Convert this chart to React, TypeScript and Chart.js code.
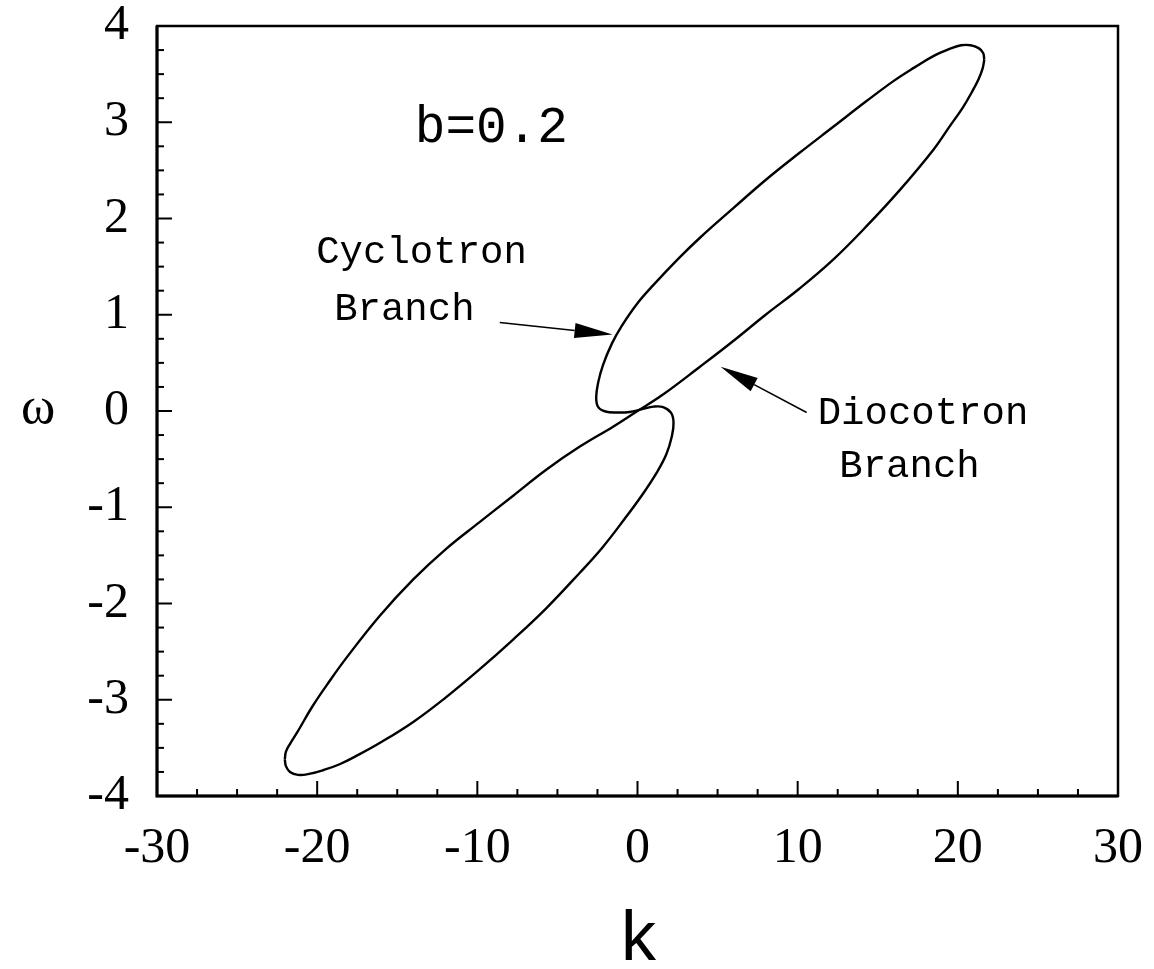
import React, { useEffect, useRef } from "react";
import { Chart, registerables } from "chart.js";

Chart.register(...registerables);

// ---- Data (k, omega) ----
// Cyclotron branch: from the upper tip, down the upper-left side of the upper lobe,
// S-turn through the origin, down the lower-right side of the lower lobe to the lower tip.
const cyclotronK = [
  21.65, 21.58, 21.3, 20.8, 20.2, 19.6, 18.5, 17.3, 16.0, 14.3, 12.2, 10.1, 8.0, 6.0, 3.9,
  2.6, 1.0, 0.0, -1.0, -1.6, -2.15, -2.45, -2.58, -2.45, -2.0, -1.3, -0.5, 0.3, 1.0, 1.6,
  2.1, 2.25, 2.15, 1.8, 1.2, 0.3, -0.8, -2.2, -3.6, -5.7, -7.8, -9.9, -12.0, -14.0, -16.1,
  -17.4, -18.6, -19.6, -20.5, -21.2, -21.7, -21.95, -22.02,
];
const cyclotronW = [
  3.65, 3.72, 3.77, 3.8, 3.8, 3.77, 3.69, 3.57, 3.43, 3.22, 2.95, 2.68, 2.4, 2.11, 1.8,
  1.59, 1.31, 1.12, 0.88, 0.7, 0.48, 0.3, 0.14, 0.04, -0.005, -0.015, -0.01, 0.02, 0.045, 0.04,
  -0.02, -0.12, -0.26, -0.45, -0.64, -0.87, -1.12, -1.42, -1.68, -2.05, -2.38, -2.69, -2.98,
  -3.23, -3.45, -3.57, -3.67, -3.73, -3.77, -3.78, -3.75, -3.69, -3.62,
];

// Diocotron branch: from the lower tip, up the upper-left side of the lower lobe,
// straight through the origin and up the lower-right side of the upper lobe to the upper tip.
const diocotronK = [
  -22.02, -21.95, -21.7, -21.25, -20.3, -19.2, -18.2, -16.1, -14.0, -12.0, -9.9, -7.8, -5.7,
  -3.6, -1.5, 0, 1.5, 3.9, 6.0, 8.0, 10.1, 12.2, 14.3, 16.4, 18.5, 19.5, 20.3, 20.9, 21.3,
  21.55, 21.65,
];
const diocotronW = [
  -3.62, -3.54, -3.46, -3.34, -3.07, -2.8, -2.57, -2.13, -1.75, -1.44, -1.16, -0.885, -0.61,
  -0.37, -0.16, 0, 0.16, 0.46, 0.73, 1.0, 1.27, 1.57, 1.92, 2.3, 2.72, 2.96, 3.15, 3.32, 3.45,
  3.56, 3.65,
];

const xTickValues = [-30, -20, -10, 0, 10, 20, 30];
const yTickValues = [-4, -3, -2, -1, 0, 1, 2, 3, 4];
const xMinorStep = 2.5;
const yMinorStep = 0.25;

const paramLabel = "b=0.2";
const cyclotronLabel = ["Cyclotron", "Branch"];
const diocotronLabel = ["Diocotron", "Branch"];
const xTitle = "k";
const yTitle = "ω";

// annotation anchors in data units (k, omega)
const paramPos = { k: -13.9, w: 2.79 };
const cycLine1Pos = { k: -20.06, w: 1.54 };
const cycLine2Pos = { k: -18.94, w: 0.95 };
const cycArrow = { from: { k: -8.6, w: 0.92 }, to: { k: -1.56, w: 0.795 } };
const dioLine1Pos = { k: 11.25, w: -0.14 };
const dioLine2Pos = { k: 12.6, w: -0.69 };
const dioArrow = { from: { k: 10.56, w: -0.016 }, to: { k: 5.19, w: 0.46 } };

const SERIF = '"Liberation Serif", "Times New Roman", serif';
const MONO = '"Liberation Mono", "Courier New", monospace';
const SANS = '"Liberation Sans", Arial, sans-serif';

function drawArrow(ctx: CanvasRenderingContext2D, x1: number, y1: number, x2: number, y2: number) {
  const ang = Math.atan2(y2 - y1, x2 - x1);
  const headLen = 38;
  const headHalf = 7.5;
  const bx = x2 - headLen * Math.cos(ang);
  const by = y2 - headLen * Math.sin(ang);
  ctx.beginPath();
  ctx.lineWidth = 1.6;
  ctx.moveTo(x1, y1);
  ctx.lineTo(bx, by);
  ctx.stroke();
  ctx.beginPath();
  ctx.moveTo(x2, y2);
  ctx.lineTo(bx + headHalf * Math.sin(ang), by - headHalf * Math.cos(ang));
  ctx.lineTo(bx - headHalf * Math.sin(ang), by + headHalf * Math.cos(ang));
  ctx.closePath();
  ctx.fill();
}

const decorPlugin = {
  id: "decor",
  afterDraw(chart: any) {
    const ctx: CanvasRenderingContext2D = chart.ctx;
    const { left, right, top, bottom } = chart.chartArea;
    const xs = chart.scales.x;
    const ys = chart.scales.y;
    const px = (k: number) => xs.getPixelForValue(k);
    const py = (w: number) => ys.getPixelForValue(w);
    ctx.save();
    ctx.strokeStyle = "#000";
    ctx.fillStyle = "#000";

    // frame
    ctx.lineWidth = 2.5;
    ctx.strokeRect(left, top, right - left, bottom - top);
    ctx.lineWidth = 3;
    ctx.beginPath();
    ctx.moveTo(left, top);
    ctx.lineTo(left, bottom);
    ctx.lineTo(right, bottom);
    ctx.stroke();

    // inward ticks (bottom and left only)
    ctx.lineWidth = 2;
    const xMin = xTickValues[0];
    const xMax = xTickValues[xTickValues.length - 1];
    for (let i = 0; xMin + i * xMinorStep <= xMax + 1e-9; i++) {
      const v = xMin + i * xMinorStep;
      const major = xTickValues.some((t) => Math.abs(t - v) < 1e-6);
      if (v === xMin || v === xMax) continue;
      const x = px(v);
      ctx.beginPath();
      ctx.moveTo(x, bottom);
      ctx.lineTo(x, bottom - (major ? 15 : 7));
      ctx.stroke();
    }
    const yMin = yTickValues[0];
    const yMax = yTickValues[yTickValues.length - 1];
    for (let i = 0; yMin + i * yMinorStep <= yMax + 1e-9; i++) {
      const v = yMin + i * yMinorStep;
      const major = yTickValues.some((t) => Math.abs(t - v) < 1e-6);
      if (v === yMin || v === yMax) continue;
      const y = py(v);
      ctx.beginPath();
      ctx.moveTo(left, y);
      ctx.lineTo(left + (major ? 15 : 7), y);
      ctx.stroke();
    }

    // annotations
    ctx.textBaseline = "alphabetic";
    ctx.textAlign = "left";
    ctx.font = `51px ${MONO}`;
    ctx.fillText(paramLabel, px(paramPos.k), py(paramPos.w));
    ctx.font = `39px ${MONO}`;
    ctx.fillText(cyclotronLabel[0], px(cycLine1Pos.k), py(cycLine1Pos.w));
    ctx.fillText(cyclotronLabel[1], px(cycLine2Pos.k), py(cycLine2Pos.w));
    ctx.fillText(diocotronLabel[0], px(dioLine1Pos.k), py(dioLine1Pos.w));
    ctx.fillText(diocotronLabel[1], px(dioLine2Pos.k), py(dioLine2Pos.w));

    drawArrow(ctx, px(cycArrow.from.k), py(cycArrow.from.w), px(cycArrow.to.k), py(cycArrow.to.w));
    drawArrow(ctx, px(dioArrow.from.k), py(dioArrow.from.w), px(dioArrow.to.k), py(dioArrow.to.w));

    // axis titles
    ctx.textAlign = "center";
    ctx.font = `70px ${SANS}`;
    ctx.fillText(xTitle, (left + right) / 2 + 1, 960);
    ctx.font = `52px ${SERIF}`;
    ctx.fillText(yTitle, 38, py(0) + 12);

    ctx.restore();
  },
};

export default function App() {
  const canvasRef = useRef<HTMLCanvasElement | null>(null);

  useEffect(() => {
    const canvas = canvasRef.current;
    if (!canvas) return;
    const lineStyle = {
      showLine: true,
      borderColor: "#000",
      borderWidth: 2.4,
      pointRadius: 0,
      tension: 0.4,
      fill: false,
    };
    const chart = new Chart(canvas, {
      type: "scatter",
      data: {
        datasets: [
          {
            label: "Cyclotron Branch",
            data: cyclotronK.map((k, i) => ({ x: k, y: cyclotronW[i] })),
            ...lineStyle,
          },
          {
            label: "Diocotron Branch",
            data: diocotronK.map((k, i) => ({ x: k, y: diocotronW[i] })),
            ...lineStyle,
          },
        ],
      },
      options: {
        animation: false,
        responsive: false,
        devicePixelRatio: 1,
        events: [],
        layout: { padding: 0 },
        plugins: {
          legend: { display: false },
          tooltip: { enabled: false },
          title: { display: false },
        },
        scales: {
          x: {
            type: "linear",
            min: -30,
            max: 30,
            afterBuildTicks: (s: any) => {
              s.ticks = xTickValues.map((v) => ({ value: v }));
            },
            afterFit: (s: any) => {
              s.height = 173;
              s.paddingLeft = 0;
              s.paddingRight = 36;
              s.paddingTop = 0;
              s.paddingBottom = 0;
            },
            ticks: {
              color: "#000",
              font: { family: SERIF, size: 50, lineHeight: 1 },
              padding: 28,
              maxRotation: 0,
              autoSkip: false,
            },
            grid: { display: false, drawTicks: false },
            border: { display: false },
          },
          y: {
            type: "linear",
            min: -4,
            max: 4,
            afterBuildTicks: (s: any) => {
              s.ticks = yTickValues.map((v) => ({ value: v }));
            },
            afterFit: (s: any) => {
              s.width = 157;
              s.paddingTop = 26;
              s.paddingBottom = 0;
              s.paddingLeft = 0;
              s.paddingRight = 0;
            },
            ticks: {
              color: "#000",
              font: { family: SERIF, size: 50, lineHeight: 1 },
              padding: 28,
              autoSkip: false,
            },
            grid: { display: false, drawTicks: false },
            border: { display: false },
          },
        },
      },
      plugins: [decorPlugin],
    });
    return () => chart.destroy();
  }, []);

  return (
    <div style={{ position: "absolute", left: 0, top: 0, width: 1154, height: 969, background: "#fff" }}>
      <canvas ref={canvasRef} width={1154} height={969} style={{ display: "block" }} />
    </div>
  );
}
